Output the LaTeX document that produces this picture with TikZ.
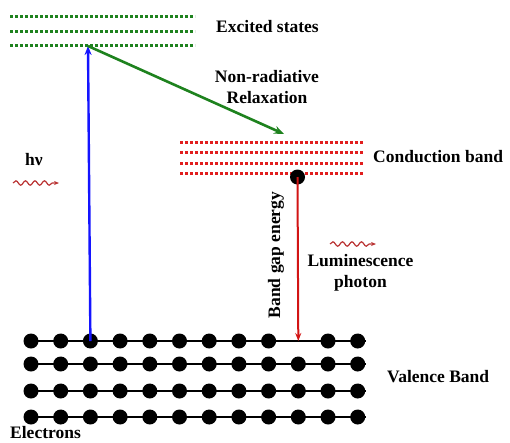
\documentclass[tikz,border=0pt]{standalone}
\usepackage{fontspec}
\setmainfont{Liberation Serif}
\usetikzlibrary{decorations.pathmorphing,arrows.meta}
\begin{document}
\begin{tikzpicture}[x=1pt,y=-1pt,
  lbl/.style={font=\fontsize{17.5}{20}\selectfont\bfseries, text=black, inner sep=0pt},
  greenlev/.style={draw={rgb,255:red,30;green,130;blue,30}, line width=3pt, dash pattern=on 2.6pt off 2.4pt},
  redlev/.style={draw={rgb,255:red,225;green,30;blue,30}, line width=3pt, dash pattern=on 2.6pt off 2.4pt},
  eball/.style={circle, fill=black, minimum size=15pt, inner sep=0pt},
  vline/.style={draw=black, line width=2.2pt},
  wave/.style={draw={rgb,255:red,185;green,50;blue,50}, line width=1.2pt, decorate,
    decoration={snake, amplitude=2.2pt, segment length=9.5pt, post length=3pt}, -{Stealth[length=5pt,width=4pt]}}
]
\useasboundingbox (0,0) rectangle (510,442);
% excited states
\foreach \y in {16,31,45} \draw[greenlev] (10,\y) -- (195,\y);
\coordinate (ex) at (88,46);
% conduction band
\foreach \y in {142,152.5,163,173.5} \draw[redlev] (180,\y) -- (364,\y);
\coordinate (cbtop) at (284,134);
% valence band lines
\foreach \y in {341,364,391,417} \draw[vline] (25,\y) -- (366,\y);
\foreach \r/\y in {1/341,2/364,3/391,4/417}{
  \foreach \i in {0,...,11}{
    \ifnum\r=1 \ifnum\i=9 \else
      \node[eball] (v\r-\i) at ({31+29.7*\i},\y) {};
    \fi\else
      \node[eball] (v\r-\i) at ({31+29.7*\i},\y) {};
    \fi
  }
}
\coordinate (vbhit) at (298.3,341);
% conduction electron
\node[eball] (ce) at (297.5,177) {};
% arrows
\draw[draw={rgb,255:red,20;green,20;blue,255}, line width=2.4pt, -{Stealth[length=9pt,width=7pt]}] (v1-2.center) -- (ex);
\draw[draw={rgb,255:red,30;green,130;blue,30}, line width=2.6pt, -{Stealth[length=10pt,width=8pt]}] (ex) -- (cbtop);
\draw[draw={rgb,255:red,210;green,20;blue,20}, line width=2pt, -{Stealth[length=8pt,width=6pt]}] (ce.center) -- (vbhit);
% labels
\node[lbl] (exc) at (267.5,27) {Excited states};
\node[lbl, align=center] (nrr) at (267,87) {Non-radiative\\[1pt]Relaxation};
\node[lbl, anchor=west] (cb) at (373,157) {Conduction band};
\node[lbl, anchor=west] (vb) at (387,377) {Valence Band};
\node[lbl, anchor=west] (el) at (10,432.5) {Electrons};
\node[lbl] (hv) at (34,160) {hν};
\node[lbl, rotate=90] (bg) at (276,255) {Band gap energy};
\node[lbl, align=center] (lum) at (360.5,273) {Luminescence\\[1pt]photon};
\coordinate (w1a) at (13,183); \coordinate (w1b) at (59,183);
\draw[wave] (w1a) -- (w1b);
\coordinate (w2a) at (330,244); \coordinate (w2b) at (376,244);
\draw[wave] (w2a) -- (w2b);
\end{tikzpicture}
\end{document}
